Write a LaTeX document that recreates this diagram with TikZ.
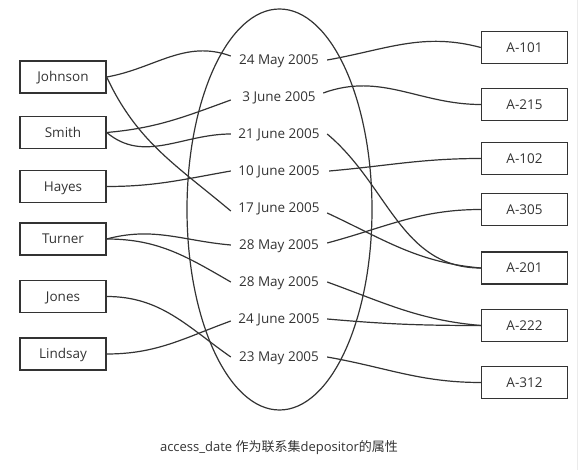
\documentclass[tikz,border=0pt]{standalone}
\usepackage{fontspec}
\setmainfont{Open Sans}
\newfontfamily\cjk{Noto Sans CJK SC}
\usetikzlibrary{positioning}
\definecolor{ink}{HTML}{333333}

\begin{document}
\begin{tikzpicture}[x=1pt,y=-1pt,
    ent/.style={draw=ink,line width=1.4pt,minimum width=86pt,minimum height=32pt,inner sep=0pt,text height=9.6pt,text depth=0pt,text=ink,font=\fontsize{13.5}{15}\selectfont},
    dt/.style={minimum width=96pt,inner sep=0pt,text height=9.6pt,text depth=0pt,text=ink,font=\fontsize{13.5}{15}\selectfont},
    link/.style={draw=ink,line width=1.2pt}]
    \useasboundingbox (0,0) rectangle (579,470);
    \draw [black!8,line width=1pt] (577,0) -- (577,470);
    % the relationship set
    \draw [link] (279.5,209.5) ellipse [x radius=92.5, y radius=200.5];
    % customers
    \node [ent] (johnson) at (63,77) {Johnson};
    \node [ent] (smith) at (63,132.5) {Smith};
    \node [ent] (hayes) at (63,186.5) {Hayes};
    \node [ent] (turner) at (63,239) {Turner};
    \node [ent] (jones) at (63,296.5) {Jones};
    \node [ent] (lindsay) at (63,354) {Lindsay};
    % accounts
    \node [ent] (a101) at (524.5,47.5) {A-101};
    \node [ent] (a215) at (524.5,104.5) {A-215};
    \node [ent] (a102) at (524.5,158.5) {A-102};
    \node [ent] (a305) at (524.5,209.5) {A-305};
    \node [ent] (a201) at (524.5,268) {A-201};
    \node [ent] (a222) at (524.5,325.5) {A-222};
    \node [ent] (a312) at (524.5,382.5) {A-312};
    % access dates
    \node [dt] (d1) at (279,60) {24 May 2005};
    \node [dt] (d2) at (279,97) {3 June 2005};
    \node [dt] (d3) at (279,134) {21 June 2005};
    \node [dt] (d4) at (279,171) {10 June 2005};
    \node [dt] (d5) at (279,208) {17 June 2005};
    \node [dt] (d6) at (279,245) {28 May 2005};
    \node [dt] (d7) at (279,282) {28 May 2005};
    \node [dt] (d8) at (279,319) {24 June 2005};
    \node [dt] (d9) at (279,357) {23 May 2005};
    % customer side
    \draw [link] (johnson.east) to[out=10,in=160] ([yshift=4pt]d1.west);
    \draw [link] (johnson.east) to[out=-65,in=140] ([yshift=-3pt]d5.west);
    \draw [link] (smith.east) to[out=5,in=200] ([yshift=-3pt]d2.west);
    \draw [link] (smith.east) to[out=-40,in=180] (d3.west);
    \draw [link] (hayes.east) to[out=0,in=190] (d4.west);
    \draw [link] (turner.east) to[out=15,in=175] (d6.west);
    \draw [link] (turner.east) to[out=0,in=150] (d7.west);
    \draw [link] (jones.east) to[out=0,in=145] (d9.west);
    \draw [link] (lindsay.east) to[out=0,in=200] ([yshift=-2pt]d8.west);
    % account side
    \draw [link] (d1.east) to[out=10,in=165] (a101.west);
    \draw [link] ([xshift=-4pt,yshift=4pt]d2.east) to[out=20,in=180] (a215.west);
    \draw [link] (d3.east) to[out=-40,in=180] (a201.west);
    \draw [link] ([xshift=2pt]d4.east) to[out=5,in=180] (a102.west);
    \draw [link] ([yshift=-5pt]d5.east) to[out=-25,in=175] (a201.west);
    \draw [link] ([yshift=2pt]d6.east) to[out=15,in=180] (a305.west);
    \draw [link] (d7.east) to[out=-20,in=175] (a222.west);
    \draw [link] (d8.east) to[out=-5,in=180] (a222.west);
    \draw [link] (d9.east) to[out=-10,in=180] (a312.west);
    \node [text=ink,font=\fontsize{13}{15}\selectfont] (cap) at (279,448) {access\_date {\cjk 作为联系集}depositor{\cjk 的属性}};
\end{tikzpicture}
\end{document}
